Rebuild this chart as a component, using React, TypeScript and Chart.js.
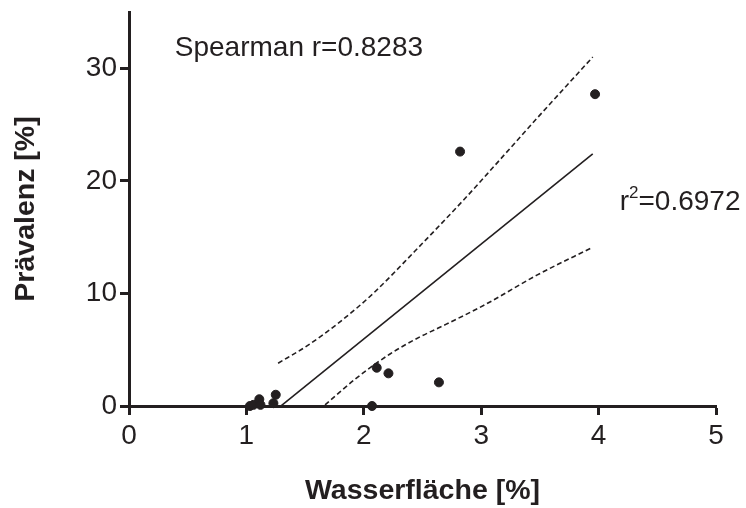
import React, { useEffect, useRef } from "react";
import { Chart, registerables } from "chart.js";

Chart.register(...registerables);

// Scatter data (Wasserfläche [%] vs Prävalenz [%])
const pointX = [1.03, 1.06, 1.11, 1.12, 1.23, 1.25, 2.07, 2.11, 2.21, 2.64, 2.82, 3.97];
const pointY = [0.0, 0.1, 0.6, 0.1, 0.25, 1.0, 0.0, 3.4, 2.9, 2.1, 22.6, 27.7];

// Linear regression line
const fitX = [1.27, 3.95];
const fitY = [-0.2, 22.4];

// 95% confidence band (upper / lower)
const upperX = [1.27, 1.51, 1.80, 2.08, 2.43, 2.85, 3.05, 3.47, 3.95];
const upperY = [3.8, 5.3, 7.5, 10.0, 13.7, 18.3, 20.6, 25.5, 31.0];
const lowerX = [1.67, 1.94, 2.22, 2.48, 2.63, 3.05, 3.47, 3.95];
const lowerY = [0.1, 2.5, 4.6, 6.15, 6.9, 9.1, 11.6, 14.1];

const xTicks = [0, 1, 2, 3, 4, 5];
const yTicks = [0, 10, 20, 30];

const xTitle = "Wasserfläche [%]";
const yTitle = "Prävalenz [%]";
const spearmanText = "Spearman r=0.8283";
const r2Value = "=0.6972";

const INK = "#231f20";
const FONT = "'Liberation Sans', Arial, Helvetica, sans-serif";

const toPts = (xs: number[], ys: number[]) => xs.map((x, i) => ({ x, y: ys[i] }));

export default function App() {
  const ref = useRef<HTMLCanvasElement | null>(null);

  useEffect(() => {
    if (!ref.current) return;
    const annot = {
      id: "annot",
      afterDraw(chart: any) {
        const { ctx, scales } = chart;
        const xs = scales.x;
        const ys = scales.y;
        ctx.save();
        ctx.fillStyle = INK;
        ctx.textBaseline = "alphabetic";
        ctx.textAlign = "left";
        ctx.font = `28px ${FONT}`;
        ctx.fillText(spearmanText, xs.getPixelForValue(0.39), ys.getPixelForValue(31.1));
        const bx = xs.getPixelForValue(4.18);
        const by = ys.getPixelForValue(17.4);
        ctx.fillText("r", bx, by);
        const rw = ctx.measureText("r").width;
        ctx.font = `17px ${FONT}`;
        ctx.fillText("2", bx + rw, by - 12);
        const sw = ctx.measureText("2").width;
        ctx.font = `28px ${FONT}`;
        ctx.fillText(r2Value, bx + rw + sw, by);
        ctx.restore();
      },
    };

    const chart = new Chart(ref.current, {
      type: "scatter",
      data: {
        datasets: [
          {
            data: toPts(pointX, pointY),
            backgroundColor: INK,
            borderColor: INK,
            pointRadius: 4.5,
            pointHoverRadius: 4.5,
            showLine: false,
            clip: false as any,
          },
          {
            data: toPts(fitX, fitY),
            showLine: true,
            borderColor: INK,
            borderWidth: 1.6,
            pointRadius: 0,
          },
          {
            data: toPts(upperX, upperY),
            showLine: true,
            borderColor: INK,
            borderWidth: 1.6,
            borderDash: [5, 3],
            pointRadius: 0,
            cubicInterpolationMode: "monotone",
          },
          {
            data: toPts(lowerX, lowerY),
            showLine: true,
            borderColor: INK,
            borderWidth: 1.6,
            borderDash: [5, 3],
            pointRadius: 0,
            cubicInterpolationMode: "monotone",
          },
        ] as any,
      },
      options: {
        animation: false,
        responsive: false,
        layout: { padding: { left: 0, top: 12, right: 30, bottom: 0 } },
        plugins: { legend: { display: false }, tooltip: { enabled: false } },
        scales: {
          x: {
            type: "linear",
            min: 0,
            max: 5,
            afterBuildTicks: (s: any) => {
              s.ticks = xTicks.map((v) => ({ value: v }));
            },
            afterFit: (s: any) => {
              s.height = 102;
            },
            ticks: {
              color: INK,
              font: { family: FONT, size: 28 },
              padding: 4,
            },
            border: { display: true, color: INK, width: 3 },
            grid: {
              drawOnChartArea: false,
              drawTicks: true,
              tickLength: 9,
              tickWidth: 3,
              tickColor: INK,
            },
            title: {
              display: true,
              text: xTitle,
              color: INK,
              font: { family: FONT, size: 28.5, weight: "bold" },
              padding: { top: 12, bottom: 0 },
            },
          },
          y: {
            type: "linear",
            min: 0,
            max: 35,
            afterBuildTicks: (s: any) => {
              s.ticks = yTicks.map((v) => ({ value: v }));
            },
            afterFit: (s: any) => {
              s.width = 129;
              s.paddingTop = 0;
              s.paddingBottom = 0;
            },
            ticks: {
              color: INK,
              font: { family: FONT, size: 28 },
              padding: 3,
            },
            border: { display: true, color: INK, width: 3 },
            grid: {
              drawOnChartArea: false,
              drawTicks: true,
              tickLength: 9,
              tickWidth: 3,
              tickColor: INK,
            },
            title: {
              display: true,
              text: yTitle,
              color: INK,
              font: { family: FONT, size: 28.5, weight: "bold" },
              padding: { top: 9, bottom: 0 },
            },
          },
        },
      },
      plugins: [annot],
    });
    return () => chart.destroy();
  }, []);

  return (
    <div style={{ position: "absolute", left: 0, top: 0, width: 746, height: 508, background: "#fff" }}>
      <canvas ref={ref} width={746} height={508} style={{ display: "block" }} />
    </div>
  );
}
